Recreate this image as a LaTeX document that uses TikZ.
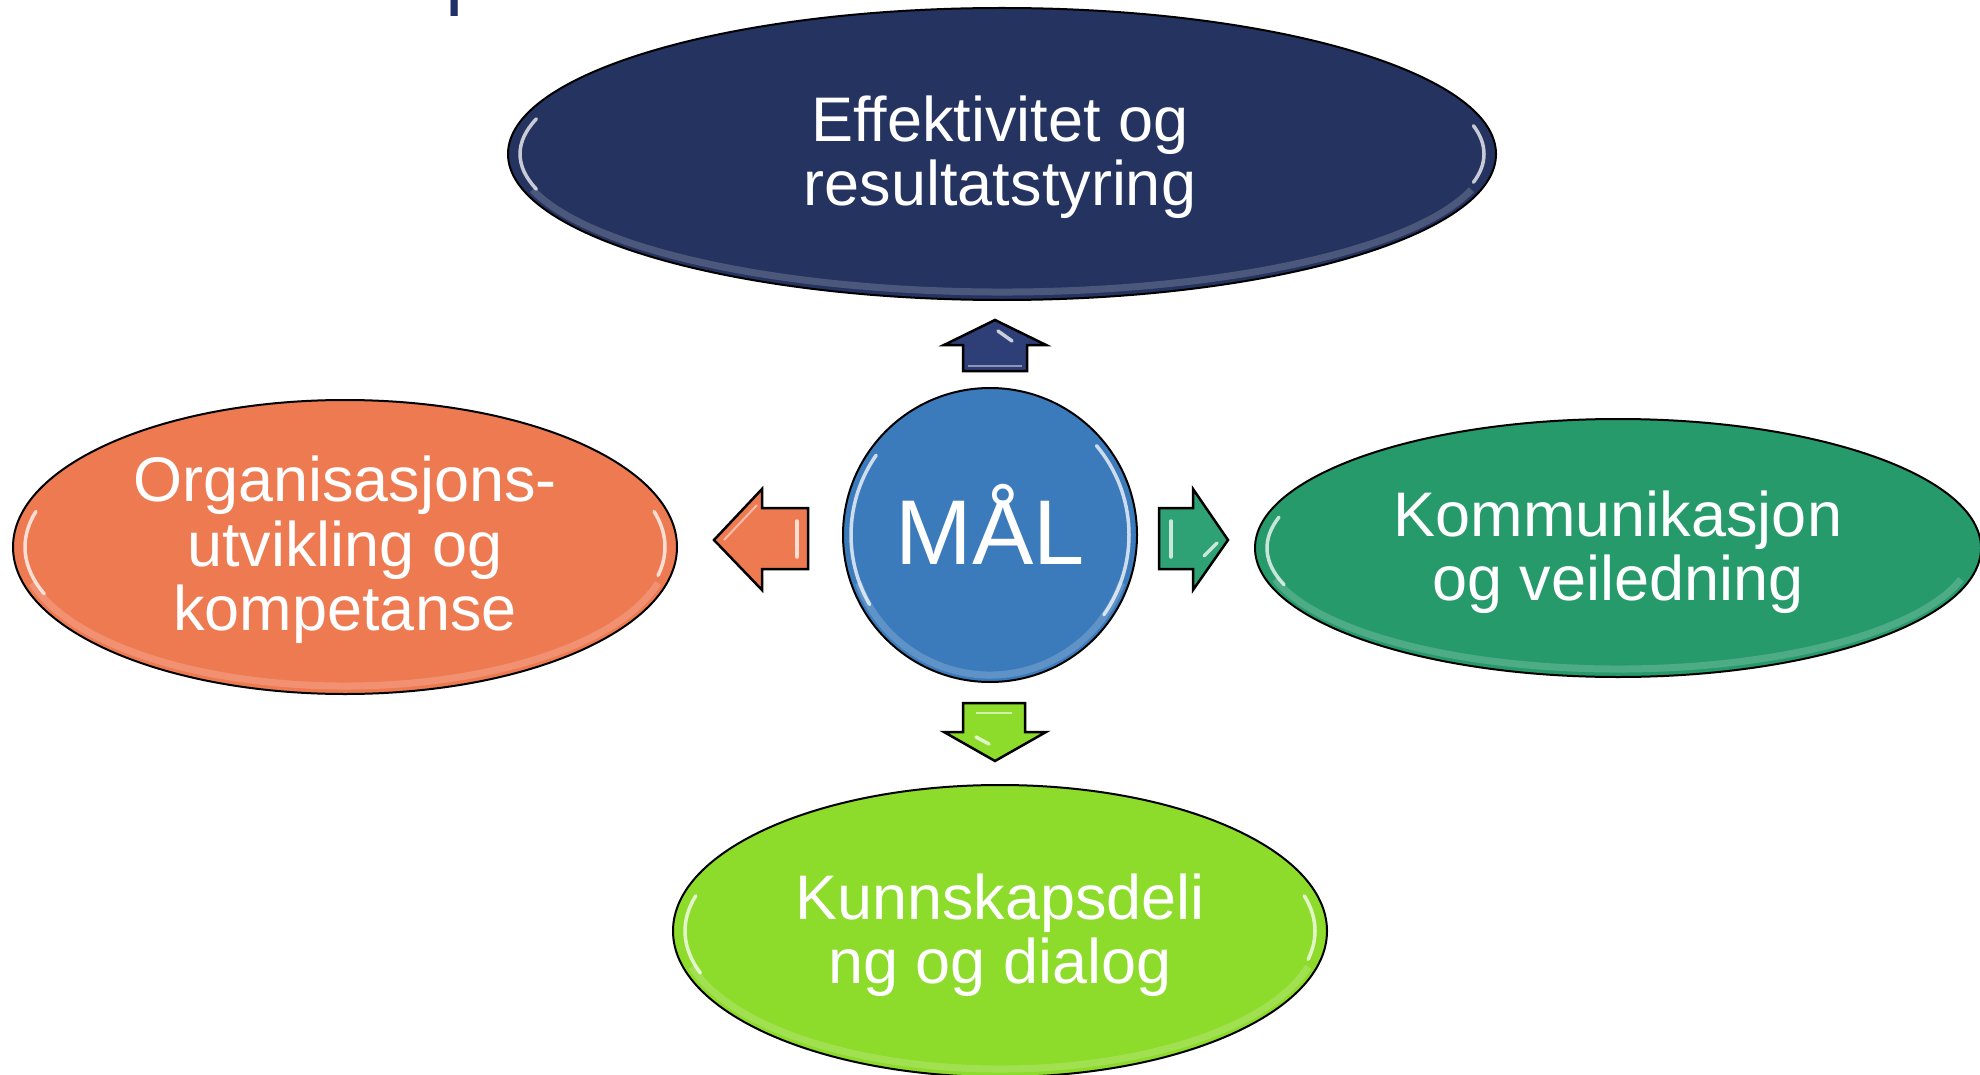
\documentclass[tikz,border=0pt]{standalone}
\usepackage{fontspec}
\setmainfont{Liberation Sans}
\usetikzlibrary{shapes.geometric}
\definecolor{navyc}{HTML}{24335F}
\definecolor{navyarrow}{HTML}{2E3F78}
\definecolor{orangec}{HTML}{EE7A52}
\definecolor{greenc}{HTML}{279A6C}
\definecolor{greenarrow}{HTML}{2FA275}
\definecolor{limec}{HTML}{8DDB2B}
\definecolor{bluec}{HTML}{3C7BBB}
\definecolor{titlec}{HTML}{1F3168}
\begin{document}
\begin{tikzpicture}[x=1pt,y=-1pt,
  blob/.style={ellipse, draw=black, line width=2pt, text=white, align=center,
    inner sep=0pt, font=\fontsize{63}{64.5}\selectfont},
  lbl/.style={text=white, align=center, inner sep=0pt, font=\fontsize{63}{64.5}\selectfont},
  blockarrow/.style={draw=black, line width=2.5pt, line join=miter},
  shine/.style={white, line width=3.5pt, opacity=0.75, line cap=round},
  rim/.style={white, line width=7pt, opacity=0.18}]
\useasboundingbox (0,0) rectangle (1980,1075);
\begin{scope}
\clip (0,0) rectangle (1980,1075);
% cut-off title
\node[anchor=base west, text=titlec, inner sep=0pt,
  font=\fontsize{82}{90}\selectfont] (title) at (176,-0.5) {arbeidspunkter};

% ellipses
\node[blob, fill=navyc, minimum width=988pt, minimum height=292pt] (top) at (1002,154) {};
\node[blob, fill=orangec, minimum width=664pt, minimum height=294pt] (left) at (345,547) {};
\node[blob, fill=greenc, minimum width=726pt, minimum height=258pt] (right) at (1618,548) {};
\node[blob, fill=limec, minimum width=654pt, minimum height=292pt] (bottom) at (1000,931) {};

% gloss on ellipses
\draw[rim] (top.center) ++(15:486 and 138) arc[start angle=15, end angle=165, x radius=486, y radius=138];
\draw[shine] (top.center) ++(165:482 and 136) arc[start angle=165, end angle=195, x radius=482, y radius=136];
\draw[shine] (top.center) ++(-12:482 and 136) arc[start angle=-12, end angle=12, x radius=482, y radius=136];
\draw[rim] (left.center) ++(15:324 and 139) arc[start angle=15, end angle=165, x radius=324, y radius=139];
\draw[shine] (left.center) ++(160:320 and 137) arc[start angle=160, end angle=195, x radius=320, y radius=137];
\draw[shine] (left.center) ++(-15:320 and 137) arc[start angle=-15, end angle=12, x radius=320, y radius=137];
\draw[rim] (right.center) ++(15:355 and 121) arc[start angle=15, end angle=165, x radius=355, y radius=121];
\draw[shine] (right.center) ++(162:351 and 119) arc[start angle=162, end angle=195, x radius=351, y radius=119];
\draw[rim] (bottom.center) ++(15:319 and 138) arc[start angle=15, end angle=165, x radius=319, y radius=138];
\draw[shine] (bottom.center) ++(162:315 and 136) arc[start angle=162, end angle=195, x radius=315, y radius=136];
\draw[shine] (bottom.center) ++(-15:315 and 136) arc[start angle=-15, end angle=12, x radius=315, y radius=136];

% texts
\node[lbl] (toptext) at (1000,157) {Effektivitet og\\resultatstyring};
\node[lbl] (lefttext) at (345,550) {Organisasjons-\\utvikling og\\kompetanse};
\node[lbl] (righttext) at (1618,552) {Kommunikasjon\\og veiledning};
\node[lbl] (bottomtext) at (1000,935) {Kunnskapsdeli\\ng og dialog};

% centre circle
\node[circle, draw=black, line width=2pt, fill=bluec, minimum size=294pt, inner sep=0pt] (mal) at (990,535) {};
\draw[rim] (mal.center) ++(20:140) arc[start angle=20, end angle=160, radius=140];
\draw[shine] (mal.center) ++(150:139) arc[start angle=150, end angle=215, radius=139];
\draw[shine] (mal.center) ++(-40:139) arc[start angle=-40, end angle=35, radius=139];
\node[text=white, anchor=base, inner sep=0pt, font=\fontsize{92}{92}\selectfont] (maltext) at (990,564) {MÅL};

% block arrows
\draw[blockarrow, fill=navyarrow] (995,320) -- (1046,345) -- (1027,345) -- (1027,371) -- (963,371) -- (963,345) -- (944,345) -- cycle;
\draw[white, opacity=0.45, line width=2pt] (968,366) -- (1022,366);
\draw[shine] (998,331) -- (1012,341);

\draw[blockarrow, fill=orangec] (714,540) -- (762,489) -- (762,508) -- (808,508) -- (808,569) -- (762,569) -- (762,590) -- cycle;
\draw[shine] (797,521) -- (797,557);
\draw[white, opacity=0.5, line width=2pt] (724,540) -- (757,505);

\draw[blockarrow, fill=greenarrow] (1228,540) -- (1193,489) -- (1193,508) -- (1159,508) -- (1159,569) -- (1193,569) -- (1193,590) -- cycle;
\draw[shine] (1171,521) -- (1171,557);
\draw[shine] (1204,556) -- (1217,543);

\draw[blockarrow, fill=limec] (995,761) -- (1046,732) -- (1025,732) -- (1025,703) -- (963,703) -- (963,732) -- (944,732) -- cycle;
\draw[white, opacity=0.6, line width=2.5pt] (976,713) -- (1012,713);
\draw[shine] (976,737) -- (989,744);
\end{scope}
\end{tikzpicture}
\end{document}
